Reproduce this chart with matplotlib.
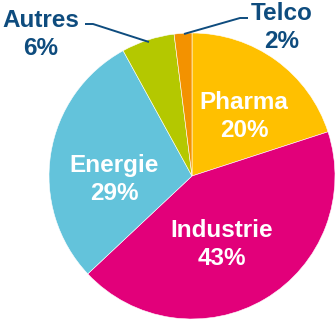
import matplotlib
matplotlib.use("Agg")
import matplotlib.pyplot as plt

# data
sectors = ["Pharma", "Industrie", "Energie", "Autres", "Telco"]
shares = [20, 43, 29, 6, 2]
colors = ["#FFC000", "#E2007A", "#63C3DB", "#B4C800", "#F39200"]

W, H = 336, 320
plt.rcParams['font.family'] = ['Liberation Sans', 'DejaVu Sans']

fig = plt.figure(figsize=(W / 100, H / 100), dpi=100)
ax = fig.add_axes([0, 0, 1, 1])

cx, cy, r = 192, 176, 143
wedges, _ = ax.pie(shares, colors=colors, startangle=-90, counterclock=True,
                   center=(cx, cy), radius=r, frame=True,
                   wedgeprops=dict(edgecolor='white', linewidth=0.4))
ax.set_xlim(0, W)
ax.set_ylim(H, 0)
ax.set_aspect('equal')
ax.axis('off')

blue = "#0E4C7E"
fs = 17.5
# labels inside the pie (x, baseline of last line)
inside = {"Pharma": (244, 137), "Industrie": (222, 265), "Energie": (114, 200)}
for name, val in zip(sectors, shares):
    if name in inside:
        x, y = inside[name]
        ax.text(x, y, f"{name}\n{val}%", ha='center', va='baseline',
                color='white', fontsize=fs, fontweight='bold', linespacing=1.3)

# outside labels with leader lines
outside = {"Autres": (41, 55), "Telco": (282, 48)}
for name, val in zip(sectors, shares):
    if name in outside:
        x, y = outside[name]
        ax.text(x, y, f"{name}\n{val}%", ha='center', va='baseline',
                color=blue, fontsize=fs, fontweight='bold', linespacing=1.3)

ax.plot([85, 93, 149], [24, 24, 42], color=blue, lw=1.4, solid_capstyle='butt')
ax.plot([184, 240, 248], [34, 18, 18], color=blue, lw=1.4, solid_capstyle='butt')

fig.savefig("out.png", dpi=100)
